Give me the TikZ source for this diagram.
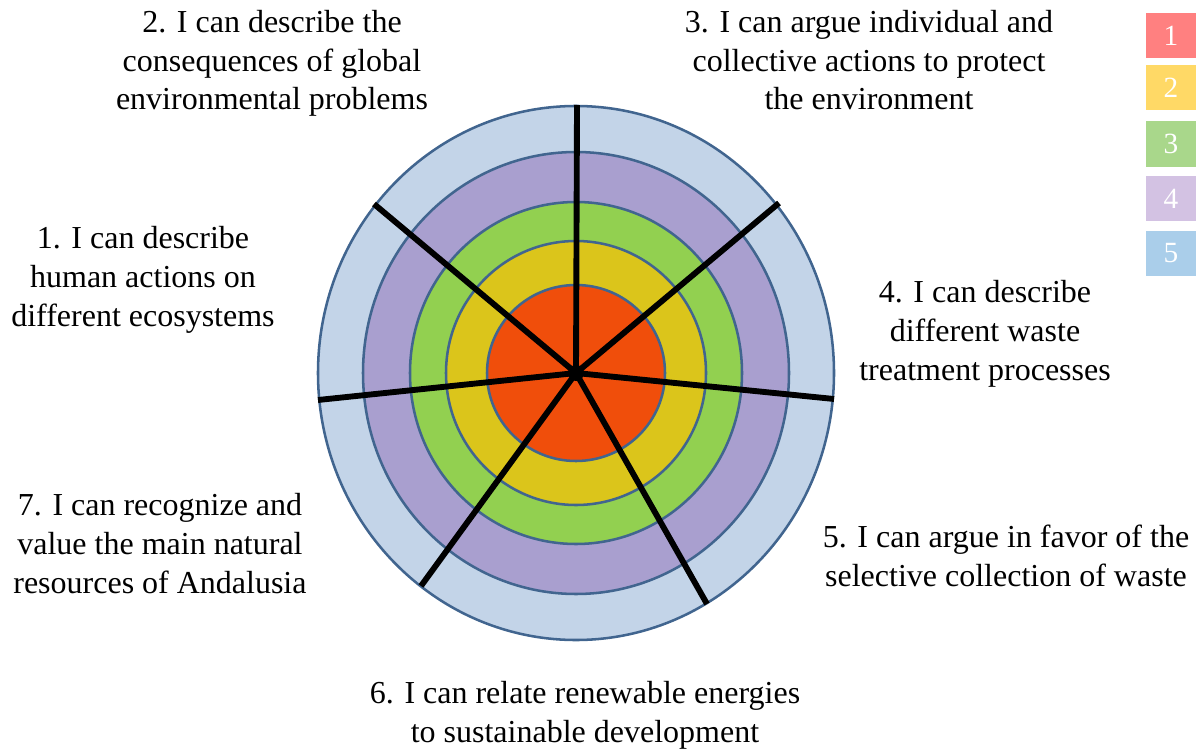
\documentclass[tikz,border=0pt]{standalone}
\usepackage{fontspec}
\setmainfont{Liberation Serif}
\definecolor{ringline}{HTML}{41658F}
\definecolor{lvlA}{HTML}{F04E0B}
\definecolor{lvlB}{HTML}{DBC51B}
\definecolor{lvlC}{HTML}{92D050}
\definecolor{lvlD}{HTML}{A99FCF}
\definecolor{lvlE}{HTML}{C3D4E8}
\definecolor{keyA}{HTML}{FF8080}
\definecolor{keyB}{HTML}{FFD966}
\definecolor{keyC}{HTML}{A9D78B}
\definecolor{keyD}{HTML}{D3C2E3}
\definecolor{keyE}{HTML}{AACEEA}
\begin{document}
\begin{tikzpicture}[x=0.75pt,y=-0.75pt,
  ring/.style={draw=ringline,line width=1.9pt},
  spoke/.style={draw=black,line width=4.4pt,line cap=butt},
  goal/.style={align=center,anchor=base,inner sep=0pt,
    font=\fontsize{24pt}{28.9pt}\selectfont},
  keybox/.style={rectangle,minimum width=37.5pt,minimum height=33.75pt,
    inner sep=0pt,text=white,font=\fontsize{22pt}{26pt}\selectfont}]
\useasboundingbox (0,0) rectangle (1200,749);

% concentric achievement levels, outermost first
\coordinate (c) at (576,373);
\fill[lvlE] (c) ellipse [x radius=258, y radius=267];
\draw[ring] (c) ellipse [x radius=258, y radius=267];
\fill[lvlD] (c) ellipse [x radius=213, y radius=221];
\draw[ring] (c) ellipse [x radius=213, y radius=221];
\fill[lvlC] (c) ellipse [x radius=166, y radius=171];
\draw[ring] (c) ellipse [x radius=166, y radius=171];
\fill[lvlB] (c) ellipse [x radius=130, y radius=132];
\draw[ring] (c) ellipse [x radius=130, y radius=132];
\fill[lvlA] (c) ellipse [x radius=89, y radius=88];
\draw[ring] (c) ellipse [x radius=89, y radius=88];

% spoke ends on the outer rim
\coordinate (s1) at (577,105);
\coordinate (s2) at (779,203);
\coordinate (s3) at (834,399);
\coordinate (s4) at (707,604);
\coordinate (s5) at (421,586);
\coordinate (s6) at (318,400);
\coordinate (s7) at (374,204);
\foreach \s in {s1,s2,s3,s4,s5,s6,s7} \draw[spoke] (c) -- (\s);
\fill[black] (c) circle [radius=8];

% goal statements (placed by the baseline of their last line)
\node[goal] (g1) at (143,326) {1. I can describe\\human actions on\\different ecosystems};
\node[goal] (g2) at (272,110) {2. I can describe the\\consequences of global\\environmental problems};
\node[goal] (g3) at (869,110) {3. I can argue individual and\\collective actions to protect\\the environment};
\node[goal] (g4) at (985,380) {4. I can describe\\different waste\\treatment processes};
\node[goal] (g5) at (1006,586.5) {5. I can argue in favor of the\\selective collection of waste};
\node[goal] (g6) at (585,742.5) {6. I can relate renewable energies\\to sustainable development};
\node[goal] (g7) at (160,593) {7. I can recognize and\\value the main natural\\resources of Andalusia};

% level key
\node[keybox,fill=keyA] (k1) at (1171,35.5) {1};
\node[keybox,fill=keyB] (k2) at (1171,88) {2};
\node[keybox,fill=keyC] (k3) at (1171,144) {3};
\node[keybox,fill=keyD] (k4) at (1171,198.5) {4};
\node[keybox,fill=keyE] (k5) at (1171,253.5) {5};
\end{tikzpicture}
\end{document}
